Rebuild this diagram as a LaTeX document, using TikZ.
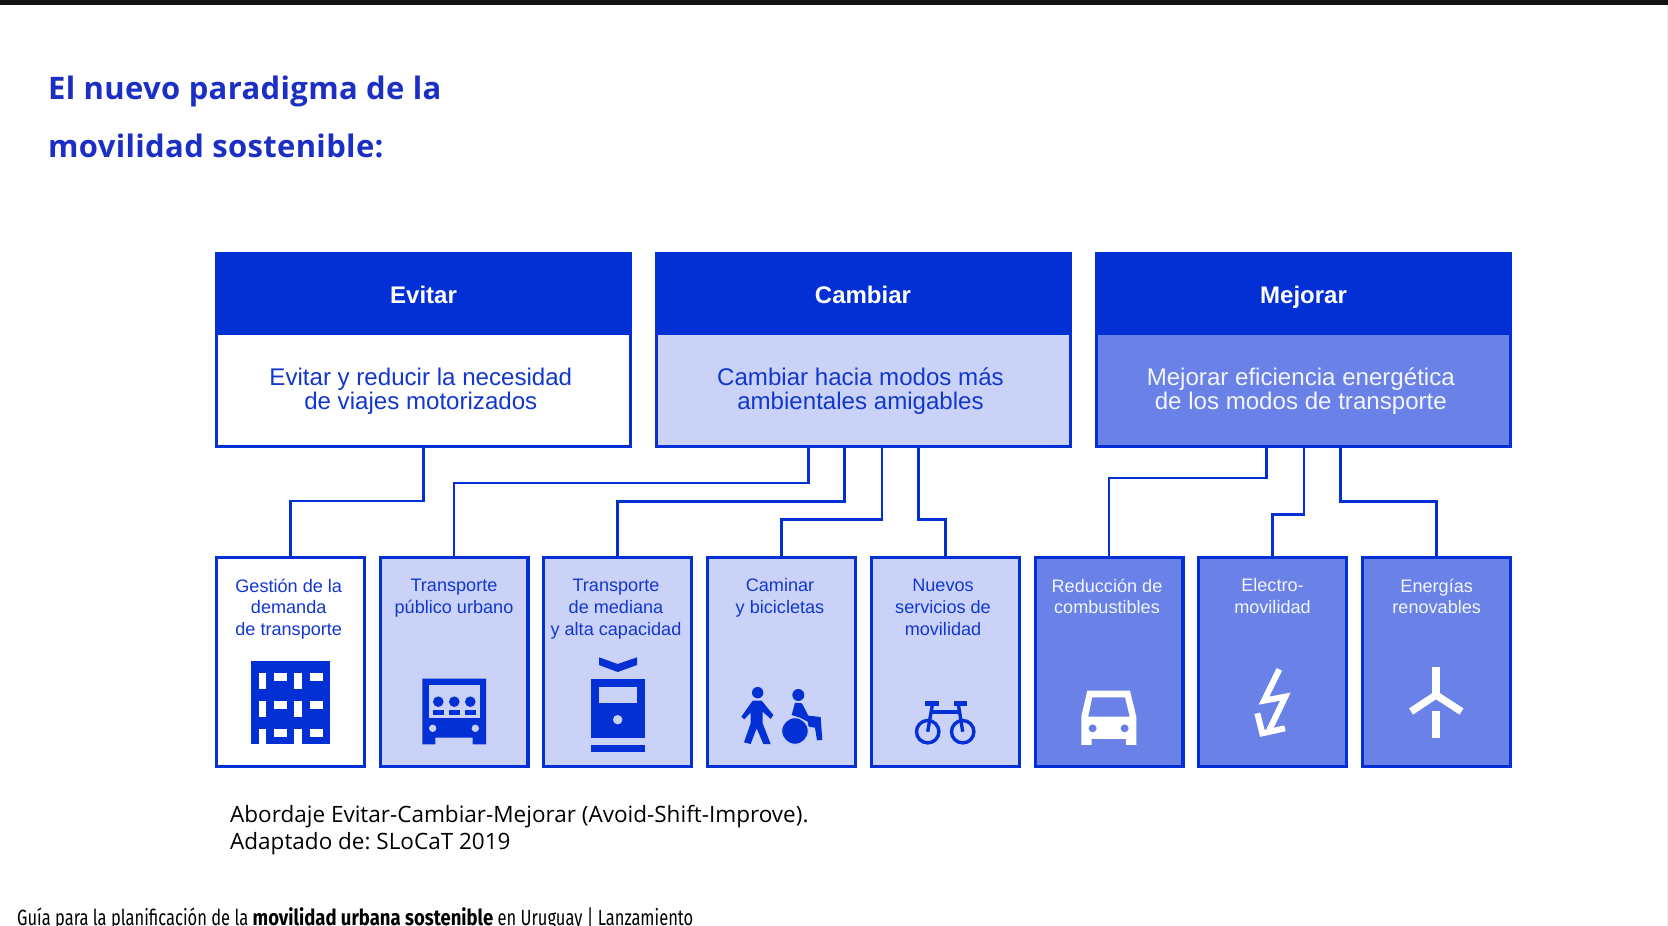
\documentclass[tikz,border=0pt]{standalone}
\usepackage{fontspec}
\setmainfont{Liberation Sans}
\newfontfamily\titlefont[LetterSpace=1.1]{Open Sans}
\newfontfamily\capfont{Open Sans}
\newfontfamily\footfont[FakeStretch=0.75,BoldFeatures={FakeStretch=0.84}]{Fira Sans}
\definecolor{dk}{HTML}{0230D4}
\definecolor{txt}{HTML}{1237CF}
\definecolor{lt}{HTML}{CAD3F7}
\definecolor{md}{HTML}{6A82E7}
\definecolor{ttl}{HTML}{1C2FC4}
\newcommand{\FLa}{\rule{0pt}{18pt}}
\newcommand{\FLb}{\rule{0pt}{13pt}}
\frenchspacing
\tikzset{
  topbox/.style={draw=dk,line width=3pt,minimum width=414pt,minimum height=193pt,inner sep=0pt,outer sep=0pt},
  headbox/.style={fill=dk,minimum width=417pt,minimum height=83pt,inner sep=0pt,outer sep=0pt,text=white,
    font=\fontsize{24}{24}\selectfont\bfseries,text height=24pt,text depth=5pt},
  lowbox/.style={draw=dk,line width=3.4pt,minimum width=147.6pt,minimum height=209pt,inner sep=0pt,outer sep=0pt},
  toptext/.style={anchor=north,align=center,inner sep=0pt,font=\fontsize{24.1}{24.6}\selectfont},
  lowtext/.style={anchor=north,align=center,inner sep=0pt,font=\fontsize{18.1}{21.8}\selectfont},
  conn/.style={draw=dk,line width=2.8pt,line join=miter},
  ico/.style={fill=dk,draw=none},
}
\begin{document}
\begin{tikzpicture}[x=1pt,y=-1pt]
\useasboundingbox (0,0) rectangle (1668,926);
\fill[white] (0,0) rectangle (1668,926);
\fill[black!93] (0,0) rectangle (1668,5);
\fill[black!7] (1666.5,5) rectangle (1668,926);

% title
\node[anchor=base west,inner sep=0pt,text=ttl,font=\titlefont\fontsize{31}{31}\selectfont\bfseries] (t1) at (48,99) {El nuevo paradigma de la};
\node[anchor=base west,inner sep=0pt,text=ttl,font=\titlefont\fontsize{31}{31}\selectfont\bfseries] (t2) at (48,157.5) {movilidad sostenible:};

% top boxes
\node[topbox,fill=white] (evitar) at (423.5,350) {};
\node[topbox,fill=lt] (cambiar) at (863,350) {};
\node[topbox,fill=md] (mejorar) at (1303.5,350) {};
\node[headbox] (evitarh) at (423.5,293.5) {Evitar};
\node[headbox] (cambiarh) at (863,293.5) {Cambiar};
\node[headbox] (mejorarh) at (1303.5,293.5) {Mejorar};
\node[toptext,text=txt] (evitart) at (420.8,367) {\FLa Evitar y reducir la necesidad\\de viajes motorizados};
\node[toptext,text=txt] (cambiart) at (860.5,367) {\FLa Cambiar hacia modos más\\ambientales amigables};
\node[toptext,text=white!92!md] (mejorart) at (1300.8,367) {\FLa Mejorar eficiencia energética\\de los modos de transporte};

% low boxes
\node[lowbox,fill=white] (b1) at (290.5,662) {};
\node[lowbox,fill=lt] (b2) at (454,662) {};
\node[lowbox,fill=lt] (b3) at (617.5,662) {};
\node[lowbox,fill=lt] (b4) at (781.5,662) {};
\node[lowbox,fill=lt] (b5) at (945.5,662) {};
\node[lowbox,fill=md] (b6) at (1109,662) {};
\node[lowbox,fill=md] (b7) at (1272.5,662) {};
\node[lowbox,fill=md] (b8) at (1436.5,662) {};

% connectors
\draw[conn] (evitar.south) -- ++(0,54.5) -| (b1.north);
\draw[conn] ([xshift=-54.5pt]cambiar.south) -- ++(0,36.5) -| (b2.north);
\draw[conn] ([xshift=-18.5pt]cambiar.south) -- ++(0,55) -| (b3.north);
\draw[conn] ([xshift=19pt]cambiar.south) -- ++(0,73) -| (b4.north);
\draw[conn] ([xshift=55.7pt]cambiar.south) -- ++(0,73) -| (b5.north);
\draw[conn] ([xshift=-37pt]mejorar.south) -- ++(0,31.5) -| (b6.north);
\draw[conn] ([xshift=0.5pt]mejorar.south) -- ++(0,68) -| (b7.north);
\draw[conn] ([xshift=37pt]mejorar.south) -- ++(0,55) -| (b8.north);

% low texts
\node[lowtext,text=txt] (l1) at (288.7,578.5) {\FLb Gestión de la\\demanda\\de transporte};
\node[lowtext,text=txt] (l2) at (454,578.5) {\FLb Transporte\\público urbano};
\node[lowtext,text=txt] (l3) at (616,578.5) {\FLb Transporte\\de mediana\\y alta capacidad};
\node[lowtext,text=txt] (l4) at (780,578.5) {\FLb Caminar\\y bicicletas};
\node[lowtext,text=txt] (l5) at (943,578.5) {\FLb Nuevos\\servicios de\\movilidad};
\node[lowtext,text=white!92!md] (l6) at (1107,578.5) {\FLb Reducción de\\combustibles};
\node[lowtext,text=white!92!md] (l7) at (1272.5,578.5) {\FLb Electro-\\movilidad};
\node[lowtext,text=white!92!md] (l8) at (1436.7,578.5) {\FLb Energías\\renovables};

% building icon
\fill[ico] (250.7,661) rectangle (330.3,744.3);
\foreach \yy in {673,701}{
  \fill[white] (258.7,\yy) rectangle (266.3,\yy+16);
  \fill[white] (294,\yy) rectangle (302,\yy+16);
}
\fill[white] (258.7,729) rectangle (266.3,744.3);
\fill[white] (294,729) rectangle (302,744.3);
\foreach \yy in {673,701,729}{
  \fill[white] (274.3,\yy) rectangle (286.7,\yy+8);
  \fill[white] (310.3,\yy) rectangle (322.7,\yy+8);
}

% bus icon
\fill[ico] (422.3,678.7) -- (486,678.7) -- (486,744.3) -- (472.7,744.3) -- (472.7,737.7) -- (435.3,737.7) -- (435.3,744.3) -- (422.3,744.3) -- cycle;
\fill[lt] (428.7,685) rectangle (480,717.7);
\foreach \xx in {438.3,454.3,470.3}{
  \fill[ico] (\xx,701.7) circle (5.3pt);
  \fill[ico] (\xx-5.8,710) rectangle (\xx+5.8,715.3);
}
\fill[lt] (432.7,728.3) circle (3.7pt);
\fill[lt] (475.3,728.3) circle (3.7pt);

% tram icon
\fill[ico] (599,657.3) -- (617.7,664) -- (637,657.3) -- (637,665) -- (617.7,672) -- (599,665) -- cycle;
\fill[ico] (590.7,679) rectangle (644.7,737.7);
\fill[lt] (598.7,687) rectangle (637.3,702.7);
\fill[lt] (617.7,719.7) circle (4.7pt);
\fill[ico] (590.7,744.7) rectangle (644.7,752.3);

% pedestrian and wheelchair
\begin{scope}[shift={(730,670)},x=0.3333pt,y=-0.3333pt]
\fill[ico] (83,68) circle (5.7pt);
\fill[ico] (68,92) -- (95,92) -- (130,135) -- (122,147) -- (98,125) -- (98,160) -- (122,222) -- (100,222) -- (80,175) -- (62,222) -- (42,217) -- (62,160) -- (62,128) -- (43,148) -- (34,140) -- cycle;
\fill[ico] (205,75) circle (6pt);
\fill[ico] (195,98) -- (216,100) -- (235,137) -- (272,141) -- (277,210) -- (261,211) -- (255,173) -- (236,170) -- (233,155) -- (210,143) -- (185,135) -- cycle;
\fill[ico,draw=lt,line width=1pt] (195,183) circle (13.3pt);
\end{scope}

% bicycle
\draw[dk,line width=3.4pt] (927.7,731.7) circle (11.2pt);
\draw[dk,line width=3.4pt] (962.7,731.7) circle (11.2pt);
\fill[ico] (925,701.3) rectangle (939,705.7);
\fill[ico] (954.3,701.3) rectangle (966.7,705.7);
\draw[dk,line width=3.4pt] (932.3,705) -- (927.7,731.7);
\draw[dk,line width=3.4pt] (931,712) -- (958.5,712);
\draw[dk,line width=3.4pt] (958.3,704) -- (962.7,731.7);

% car
\begin{scope}[shift={(700,540)},x=0.3333pt,y=-0.3333pt]
\fill[white] (1162,452) -- (1290,452) -- (1309,530) -- (1309,615) -- (1278,615) -- (1278,597) -- (1175,597) -- (1175,615) -- (1144,615) -- (1144,530) -- cycle;
\fill[md] (1177,472) -- (1275,472) -- (1289,530) -- (1165,530) -- cycle;
\fill[md] (1178,565) circle (4pt);
\fill[md] (1274,565) circle (4pt);
\end{scope}

% bolt
\begin{scope}[shift={(1180,540)},x=0.3333pt,y=-0.3333pt]
\draw[white,line width=6pt,miter limit=10] (298,388) -- (252,482) -- (316,470) -- (268,570);
\draw[white,line width=6pt,miter limit=10] (232,520) -- (247,580) -- (315,565);
\end{scope}

% turbine
\draw[white,line width=7.3pt,line join=miter] (1436,667.3) -- (1436,696);
\draw[white,line width=7.3pt] (1436,695) -- (1411,711.5);
\draw[white,line width=7.3pt] (1436,695) -- (1461.5,711.5);
\draw[white,line width=7.3pt] (1436,711) -- (1436,738.3);

% caption and footer
\node[anchor=base west,inner sep=0pt,font=\capfont\fontsize{22.5}{22}\selectfont] (c1) at (230,822) {Abordaje Evitar-Cambiar-Mejorar (Avoid-Shift-Improve).};
\node[anchor=base west,inner sep=0pt,font=\capfont\fontsize{22.5}{22}\selectfont] (c2) at (230,849.5) {Adaptado de: SLoCaT 2019};
\node[anchor=base west,inner sep=0pt,font=\footfont\fontsize{22}{22}\selectfont] (f1) at (17,925) {Guía para la planificación de la \textbf{movilidad urbana sostenible} en Uruguay | Lanzamiento};
\end{tikzpicture}
\end{document}
